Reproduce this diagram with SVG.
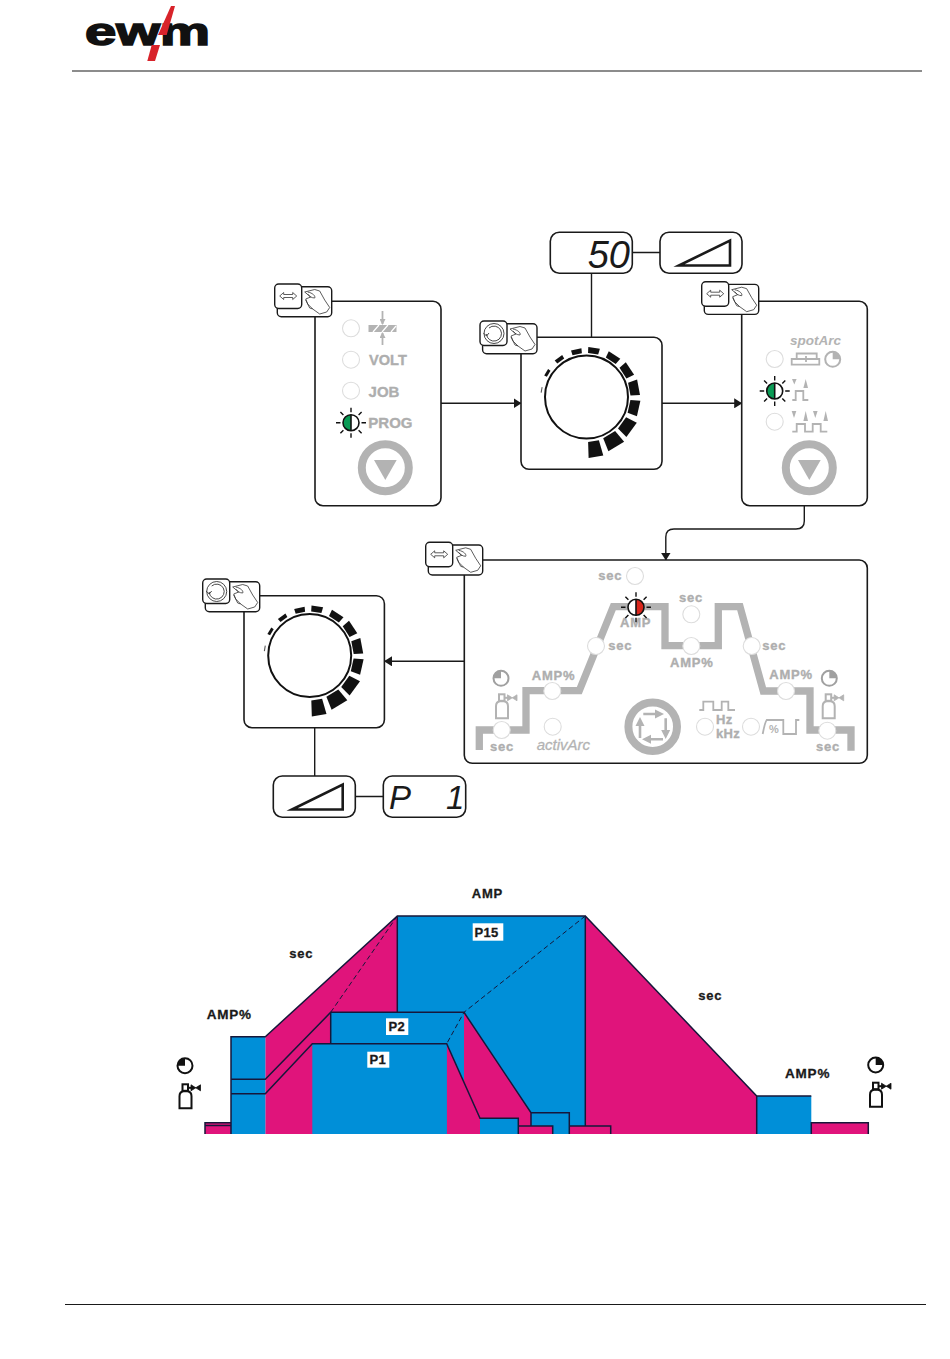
<svg xmlns="http://www.w3.org/2000/svg" width="950" height="1359" viewBox="0 0 950 1359">
<style>
text{font-family:"Liberation Sans",Arial,sans-serif}
.box{fill:#fff;stroke:#1a1a1a;stroke-width:1.6}
.conn{fill:none;stroke:#1a1a1a;stroke-width:1.4}
.g{fill:#aeaeae;stroke:#aeaeae;stroke-width:.35;font-weight:700;font-size:13px;letter-spacing:.8px}
.k{fill:#1a1a1a;stroke:#1a1a1a;stroke-width:.3;font-weight:700;font-size:13px;letter-spacing:.8px}
.big{font-size:15px;letter-spacing:0}
.off{fill:#fff;stroke:#ddd;stroke-width:1.1}
.seg{font-style:italic;font-size:38px;fill:#1a1a1a}
.gl{fill:none;stroke:#b3b3b3;stroke-width:1.8}
.gf{fill:#b3b3b3}
.mg{fill:#e0147b}
.bl{fill:#008fd8}
.ln{fill:none;stroke:#16173a;stroke-width:1.5}
.ds{fill:none;stroke:#16173a;stroke-width:1;stroke-dasharray:5 3}
.wedge{fill:#fff;stroke:#1a1a1a;stroke-width:2.6;stroke-miterlimit:12}
</style>
<defs>
<marker id="ah" viewBox="0 0 8 10" refX="7.5" refY="5" markerWidth="8" markerHeight="10" markerUnits="userSpaceOnUse" orient="auto"><path d="M0 0L8 5L0 10z" fill="#1a1a1a"/></marker>
<marker id="gah" viewBox="0 0 6 6" refX="5" refY="3" markerWidth="6" markerHeight="6" markerUnits="userSpaceOnUse" orient="auto"><path d="M0 0L6 3L0 6z" fill="#b3b3b3"/></marker>
<g id="dial">
<g fill="#111">
<polygon points="12.4,43.2 1.6,45 2.1,60.9 16.8,58.6"/>
<polygon points="28.6,34.1 16.7,41.3 21.9,54.2 37.6,44.8"/>
<polygon points="39.6,20.2 31.5,31.5 39.9,39.9 50.3,25.7"/>
<polygon points="43.9,3.1 41.1,15.8 50.4,19.3 53.9,3.8"/>
<polygon points="41.6,-14.3 44,-1.5 53.5,-1.9 50.6,-17.4"/>
<polygon points="33,-29.2 39.9,-18.6 47.6,-22.2 39.3,-34.8"/>
<polygon points="19.3,-39.6 29.2,-33 33.8,-38.2 22.3,-45.8"/>
<polygon points="1.5,-44 11.7,-42.4 13.4,-48.2 1.8,-50"/>
<polygon points="-14,-41.7 -4.6,-43.8 -5.1,-48.7 -15.5,-46.5"/>
<polygon points="-29.2,-33.6 -22.3,-38.5 -24.3,-42 -31.8,-36.6"/>
<polygon points="-39.6,-20.2 -36,-26.2 -38.4,-27.9 -42.3,-21.6"/>
<polygon points="-44.8,-4.3 -43.9,-9.7 -44.9,-9.9 -45.9,-4.4" fill="#555"/>
</g>
<circle r="41.5" fill="#fff" stroke="#111" stroke-width="2"/>
</g>
<g id="hand" fill="none" stroke="#333" stroke-width=".8">
<path d="M30 8L40 5.5L45 7L50 16L55 23.5L52 28L45 30L38 25L33 20L31 15L36 13L30 8z"/>
<path d="M31 16L35 24L38 25M33 8C38 9 41 12 40 14C37 14 34 12 33 10"/>
</g>
<g id="tag-back"><rect x="2.6" y="2.7" width="54.4" height="30" rx="4" fill="#fff" stroke="#1a1a1a" stroke-width="1.4"/><use href="#hand"/><rect width="27" height="24.5" rx="4" fill="#fff" stroke="#1a1a1a" stroke-width="1.4"/></g>
<g id="tag-arrow"><use href="#tag-back"/><path d="M5 12L9 8.5V10.5H18V8.5L22 12L18 15.5V13.5H9V15.5z" fill="none" stroke="#333" stroke-width=".8"/></g>
<g id="tag-dial"><use href="#tag-back"/><circle cx="14" cy="12.5" r="10" fill="none" stroke="#333" stroke-width=".9"/><path d="M6.5 13A7.5 7.5 0 1 0 9 7" fill="none" stroke="#333" stroke-width=".9"/><path d="M3.5 12L6.5 15L9 12" fill="none" stroke="#333" stroke-width=".9"/></g>
<g id="rays" stroke="#111" stroke-width="1.4"><path d="M0 -15V-10.5M0 15V10.5M-15 0H-10.5M15 0H10.5M-10.6 -10.6L-7.6 -7.6M10.6 -10.6L7.6 -7.6M-10.6 10.6L-7.6 7.6M10.6 10.6L7.6 7.6"/></g>
<g id="led-green"><use href="#rays"/><circle r="8" fill="#fff"/><path d="M0 -8A8 8 0 0 0 0 8z" fill="#0a9b55"/><circle r="8" fill="none" stroke="#111" stroke-width="1.6"/><path d="M0 -8V8" stroke="#111" stroke-width="1.6"/></g>
<g id="led-red"><use href="#rays"/><circle r="8" fill="#fff"/><path d="M0 -8A8 8 0 0 1 0 8z" fill="#d9261c"/><circle r="8" fill="none" stroke="#111" stroke-width="1.6"/><path d="M0 -8V8" stroke="#111" stroke-width="1.6"/></g>
<g id="btn-down"><circle r="23.5" fill="#fff" stroke="#b3b3b3" stroke-width="8"/><polygon points="-11.3,-7.7 11.4,-7.7 0,12.3" fill="#b3b3b3"/></g>
<g id="bottle" fill="none" stroke="currentColor" stroke-width="2"><path d="M1 25V13Q1 8.5 5 8H9Q13 8.5 13 13V25z"/><rect x="4" y="1" width="5.5" height="6.5"/><path d="M9.5 4.5H13"/><path d="M12.5 1.5L22 7.5V1.5L12.5 7.5z" fill="currentColor" stroke-width=".8"/></g>
<g id="clock-l"><circle r="7.5" fill="#fff" stroke="currentColor" stroke-width="2"/><path d="M0 0V-7.5A7.5 7.5 0 0 0 -7.5 0z" fill="currentColor"/></g>
<g id="clock-r"><circle r="7.5" fill="#fff" stroke="currentColor" stroke-width="2"/><path d="M0 0V-7.5A7.5 7.5 0 0 1 7.5 0z" fill="currentColor"/></g>
</defs>
<rect width="950" height="1359" fill="#fff"/>

<g id="logo">
<text x="85" y="44.5" font-size="39" font-weight="700" fill="#111" stroke="#111" stroke-width="1.6" textLength="125" lengthAdjust="spacingAndGlyphs">ewm</text>
<polygon points="171,6 175,6 166.7,35 158,35" fill="#d8232a"/>
<polygon points="151.7,45 160,45 155,61 147.3,61" fill="#d8232a"/>
</g>
<path d="M72 71H922M65 1304.5H926" stroke="#1a1a1a" stroke-width="1.2" fill="none"/>

<g id="connectors">
<path class="conn" d="M441 403.3H521" marker-end="url(#ah)"/>
<path class="conn" d="M662 403.3H741.7" marker-end="url(#ah)"/>
<path class="conn" d="M804.3 505.7V521Q804.3 529 796 529H674Q665.8 529 665.8 537V560" marker-end="url(#ah)"/>
<path class="conn" d="M464.3 661.3H384.5" marker-end="url(#ah)"/>
<path class="conn" d="M591.5 273.3V337.3M632.3 252.5H660M314.7 727.7V776M355.3 796.5H383.3"/>
</g>

<g id="node-selector">
<rect class="box" x="315" y="301.3" width="126" height="204.4" rx="8"/>
<use href="#tag-arrow" x="274.7" y="284"/>
<circle class="off" cx="351" cy="328.3" r="8.5"/><circle class="off" cx="351" cy="359.7" r="8.5"/><circle class="off" cx="351" cy="390.7" r="8.5"/>
<rect x="368.5" y="325" width="28" height="7" class="gf"/>
<path d="M373 332L379 325M382 332L388 325M391 332L396 326" stroke="#fff" stroke-width="1.2"/>
<path class="gl" d="M382.5 311V324" marker-end="url(#gah)" stroke-width="1.2"/>
<path class="gl" d="M382.5 345V333" marker-end="url(#gah)" stroke-width="1.2"/>
<text class="g big" x="369" y="365" style="font-size:14.6px">VOLT</text>
<text class="g big" x="368.6" y="396.7">JOB</text>
<text class="g big" x="368.3" y="427.7">PROG</text>
<use href="#led-green" x="351" y="422.7"/>
<use href="#btn-down" x="385.3" y="467.7"/>
</g>

<g id="node-dial-top">
<rect class="box" x="521" y="337.3" width="141" height="132" rx="8"/>
<use href="#tag-dial" x="480" y="321"/>
<use href="#dial" x="586.5" y="397"/>
</g>

<g id="node-display-50">
<rect class="box" x="550.3" y="232.3" width="82" height="41" rx="9"/>
<text class="seg" x="630" y="268" text-anchor="end">50</text>
</g>
<g id="node-wedge-top">
<rect class="box" x="660" y="232.3" width="82" height="41" rx="9"/>
<polygon class="wedge" points="679,265.5 730,240.5 730,265.5"/>
</g>

<g id="node-mode">
<rect class="box" x="741.7" y="301.3" width="125.6" height="204.4" rx="8"/>
<use href="#tag-arrow" x="701.7" y="281.7"/>
<text x="790" y="345" font-size="13.5" font-weight="700" font-style="italic" fill="#b3b3b3">spotArc</text>
<circle class="off" cx="774.7" cy="359" r="8.5"/><circle class="off" cx="774.7" cy="421.7" r="8.5"/>
<path class="gl" d="M796.7 353.5H816.7V359H796.7zM791.7 359H819.3V364.7H791.7zM806 356V362"/>
<use href="#clock-r" x="832.7" y="359.3" color="#b3b3b3"/>
<use href="#led-green" x="774.7" y="391"/>
<path class="gl" d="M792.3 400H795.7V391H803.3V400H808.3"/>
<polygon class="gf" points="792,379 796.6,379 794.3,384.5"/><polygon class="gf" points="803.4,388 808,388 805.7,379"/>
<path class="gl" d="M792.3 431.7H796.7V424H805V431.7H812.7V424H820.7V431.7H827.3"/>
<polygon class="gf" points="791.7,411 796.3,411 794,418"/><polygon class="gf" points="803.4,421 808,421 805.7,411"/><polygon class="gf" points="813,411 817.6,411 815.3,418"/><polygon class="gf" points="823.4,421 828,421 825.7,411"/>
<use href="#btn-down" x="809.3" y="467.7"/>
</g>

<g id="node-panel">
<rect class="box" x="464.3" y="560" width="403" height="203.3" rx="8"/>
<use href="#tag-arrow" x="425.7" y="542.3"/>
<path d="M479.3 750V730H526V690.7H579.3L613.3 606.7H665V645.7H718.3V606.7H740L763.3 691H810V730H851V750.7" fill="none" stroke="#b3b3b3" stroke-width="7.3"/>
<text class="g" x="598.3" y="580">sec</text>
<text class="g" x="679" y="601.7">sec</text>
<text class="g" x="608.3" y="650">sec</text>
<text class="g" x="762.3" y="650">sec</text>
<text class="g" x="490" y="750.7">sec</text>
<text class="g" x="816" y="750.7">sec</text>
<text class="g" x="620" y="627.3">AMP</text>
<text class="g" x="670" y="667.3">AMP%</text>
<text class="g" x="531.7" y="680">AMP%</text>
<text class="g" x="769.3" y="679">AMP%</text>
<text x="536.7" y="750" font-size="15" font-style="italic" fill="#b3b3b3" stroke="#b3b3b3" stroke-width=".3">activArc</text>
<text class="g" x="716" y="724.3" style="letter-spacing:.3px">Hz</text>
<text class="g" x="716" y="738.3" style="letter-spacing:.3px">kHz</text>
<circle class="off" cx="635" cy="576" r="8.5"/><circle class="off" cx="691.3" cy="614.3" r="8.5"/><circle class="off" cx="596" cy="646" r="8.5"/><circle class="off" cx="691.3" cy="646" r="8.5"/><circle class="off" cx="751.7" cy="646" r="8.5"/><circle class="off" cx="552.3" cy="691" r="8.5"/><circle class="off" cx="786" cy="691" r="8.5"/><circle class="off" cx="501.7" cy="730" r="8.5"/><circle class="off" cx="552.7" cy="726.7" r="8.5"/><circle class="off" cx="705" cy="726.7" r="8.5"/><circle class="off" cx="751" cy="726.7" r="8.5"/><circle class="off" cx="827.3" cy="730.7" r="8.5"/>
<use href="#led-red" x="636" y="607.3"/>
<use href="#clock-l" x="501" y="678.3" color="#a0a0a0"/>
<use href="#clock-r" x="829.3" y="678.3" color="#a0a0a0"/>
<use href="#bottle" x="495" y="693.3" color="#b3b3b3"/>
<use href="#bottle" x="821.7" y="693.3" color="#b3b3b3"/>
<path class="gl" d="M699.3 710H703.3V701.7H713.3V710H721.7V701.7H728.3V710H735"/>
<path class="gl" d="M762.7 734Q765 722 766.7 720H783.3V734H796V720H799.3"/>
<text x="769" y="733" font-size="11" font-weight="700" fill="#b3b3b3">%</text>
<circle cx="652.7" cy="726.7" r="24.3" fill="#fff" stroke="#b3b3b3" stroke-width="8"/>
<path d="M643.3 714H657M665.7 718.3V732M663 739.3H650M640 738V724" fill="none" stroke="#b3b3b3" stroke-width="2.6"/>
<polygon class="gf" points="655,709.5 664,714 655,718.5"/><polygon class="gf" points="661.2,730 670.2,730 665.7,739"/><polygon class="gf" points="651,734.8 642,739.3 651,743.8"/><polygon class="gf" points="635.5,726 644.5,726 640,717"/>
</g>

<g id="node-dial-bottom">
<rect class="box" x="244" y="595.7" width="140.4" height="132" rx="8"/>
<use href="#tag-dial" x="202.7" y="579"/>
<use href="#dial" x="309.7" y="655.5"/>
</g>

<g id="node-wedge-bottom">
<rect class="box" x="273.3" y="776" width="82" height="41.3" rx="9"/>
<polygon class="wedge" points="292,809.5 342.7,784.5 342.7,809.5"/>
</g>
<g id="node-display-p1">
<rect class="box" x="383.3" y="776" width="82.4" height="41.3" rx="9"/>
<text class="seg" y="809" style="font-size:33px"><tspan x="389">P </tspan><tspan x="446">1</tspan></text>
</g>

<g id="chart">
<rect class="mg" x="205" y="1122.7" width="26" height="11.3"/>
<polygon class="mg" points="265.3,1036.7 397.3,916 397.3,1134 265.3,1134"/>
<rect class="bl" x="397.3" y="916" width="188" height="218"/>
<polygon class="mg" points="585.3,916 756.7,1096 756.7,1134 585.3,1134"/>
<rect class="bl" x="231" y="1036.7" width="34.3" height="97.3"/>
<rect class="bl" x="756.7" y="1096" width="54.6" height="38"/>
<rect class="mg" x="811.3" y="1122.7" width="57" height="11.3"/>
<rect class="bl" x="330.7" y="1012.3" width="133.3" height="121.7"/>
<polygon class="mg" points="464,1012.3 531,1112.7 531,1134 464,1134"/>
<rect class="bl" x="531" y="1112.7" width="38.3" height="21.3"/>
<rect class="mg" x="569.3" y="1126" width="41.4" height="8"/>
<polygon class="mg" points="446.7,1043.7 480,1118.3 480,1134 446.7,1134"/>
<rect class="bl" x="312.3" y="1043.7" width="134.4" height="90.3"/>
<rect class="bl" x="480" y="1118.3" width="38.3" height="15.7"/>
<rect class="mg" x="518.3" y="1126" width="34.4" height="8"/>
<path class="ln" d="M205 1134V1122.7H231M205 1125.5H231M231 1134V1036.7H265.3L397.3 916H585.3L756.7 1096H811.3M756.7 1096V1134M811.3 1134V1122.7H868.3V1134M231 1079.3H265.3L330.7 1012.3H464L531 1112.7H569.3V1134M231 1093.7H265.3L312.3 1043.7H446.7L480 1118.3H518.3V1126H552.7V1134M518.3 1126V1134M397.3 916V1012.3M585.3 916V1126M569.3 1126H610.7V1134M531 1112.7V1126M330.7 1012.3V1043.7"/>
<path class="ds" d="M397.3 916L330.7 1012.3M585.3 916L464 1012.3L446.7 1043.7"/>
<rect x="472.7" y="923.3" width="30.6" height="17.4" fill="#fff"/>
<rect x="386" y="1018.3" width="22.3" height="16.7" fill="#fff"/>
<rect x="367.3" y="1051.7" width="22" height="16" fill="#fff"/>
<text class="k" x="474.5" y="936.7" style="letter-spacing:.3px">P15</text>
<text class="k" x="388.5" y="1030.7" style="letter-spacing:.3px">P2</text>
<text class="k" x="369.5" y="1063.7" style="letter-spacing:.3px">P1</text>
<text class="k" x="471.7" y="898.3">AMP</text>
<text class="k" x="289.3" y="957.7">sec</text>
<text class="k" x="698.3" y="1000">sec</text>
<text class="k" x="206.7" y="1019.3" style="font-size:13.5px">AMP%</text>
<text class="k" x="785" y="1078.3" style="font-size:13.5px">AMP%</text>
<use href="#clock-l" x="185" y="1065.7" color="#111"/>
<use href="#clock-r" x="875.7" y="1065" color="#111"/>
<use href="#bottle" x="178.5" y="1083.3" color="#111"/>
<use href="#bottle" x="869" y="1081.7" color="#111"/>
</g>
</svg>
